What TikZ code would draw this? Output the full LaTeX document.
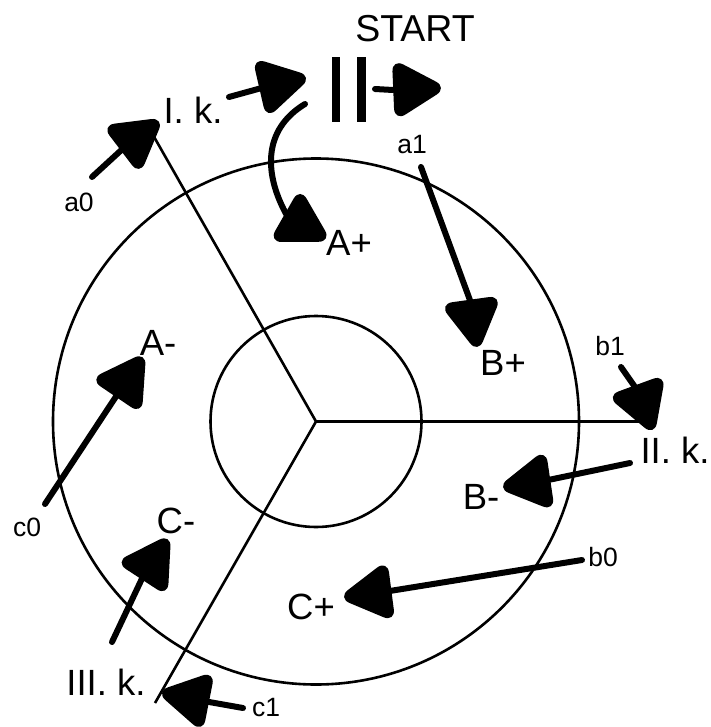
\documentclass[tikz,border=0pt]{standalone}
\usepackage{fontspec}
\setmainfont{Liberation Sans}
\usetikzlibrary{calc}
\tikzset{
  ring/.style={draw=black,line width=2.6pt,circle,inner sep=0pt},
  spoke/.style={draw=black,line width=2.6pt},
  big/.style={inner sep=0pt,font=\fontsize{36.5}{36.5}\selectfont},
  bigger/.style={inner sep=0pt,font=\fontsize{37.5}{37.5}\selectfont},
  small/.style={inner sep=0pt,font=\fontsize{26.5}{26.5}\selectfont},
  flow/.style={draw=black,line width=6pt,line cap=round},
  headshape/.style={fill=black,draw=none,rounded corners=13pt},
  bar/.style={fill=black,draw=none},
}
% arrowhead: rounded tip at #1, pointing away from base centre #2
\newcommand{\flowhead}[2]{%
  \path[headshape] ($(#1)!-7.5pt!(#2)$)
    -- ($(#1)!46.8pt!(#2)!31.5pt!90:(#1)$)
    -- ($(#1)!46.8pt!(#2)!31.5pt!-90:(#1)$) -- cycle;}
\begin{document}
\begin{tikzpicture}[x=1pt,y=-1pt]
\useasboundingbox (0,0) rectangle (710,727);
% rings
\node[ring,minimum size=526pt] (outer) at (316,421.5) {};
\node[ring,minimum size=211pt] (inner) at (316,421.5) {};
\coordinate (hub) at (316,421.5);
\coordinate (k1) at (153,135);
\coordinate (k2) at (655,421.5);
\coordinate (k3) at (155,703);
\draw[spoke] (hub) -- (k1);
\draw[spoke] (hub) -- (k2);
\draw[spoke] (hub) -- (k3);
% labels
\node[bigger] (start) at (415,29) {START};
\node[big] (ik) at (193,110) {I. k.};
\node[big] (iik) at (675,450) {II. k.};
\node[big] (iiik) at (106,682) {III. k.};
\node[big] (ap) at (349,243) {A+};
\node[big] (bp) at (503,363) {B+};
\node[big] (am) at (158,343) {A-};
\node[big] (bm) at (481,497) {B-};
\node[big] (cm) at (176,521) {C-};
\node[big] (cp) at (311,607) {C+};
\node[small] (a0) at (79,202) {a0};
\node[small] (a1) at (412,145) {a1};
\node[small] (b1) at (610,346) {b1};
\node[small] (b0) at (603,557) {b0};
\node[small] (c0) at (27,527) {c0};
\node[small] (c1) at (266,708) {c1};
% switch bars
\node[bar,minimum width=8.5pt,minimum height=65pt,inner sep=0pt] (bar1) at (336,89.5) {};
\node[bar,minimum width=8.5pt,minimum height=65pt,inner sep=0pt] (bar2) at (361.5,89.5) {};
% connector ends: s = start, b = head base centre, t = head tip
\coordinate (s1) at (92,177);   \coordinate (b1) at (122.5,149); \coordinate (t1) at (158,122);
\coordinate (s2) at (229,97);   \coordinate (b2) at (263.5,87.5); \coordinate (t2) at (305,78);
\coordinate (s3) at (375,89);   \coordinate (b3) at (393,90);   \coordinate (t3) at (440,88);
\coordinate (s4) at (305,104);  \coordinate (b4) at (287.5,216.5); \coordinate (t4) at (325,238);
\coordinate (s5) at (421,167);  \coordinate (b5) at (471,303);  \coordinate (t5) at (477,346);
\coordinate (s6) at (621,367);  \coordinate (b6) at (638.5,392); \coordinate (t6) at (652,429);
\coordinate (s7) at (630,463);  \coordinate (b7) at (541,481.5); \coordinate (t7) at (504,487);
\coordinate (s8) at (582,560);  \coordinate (b8) at (383.5,592); \coordinate (t8) at (345,597);
\coordinate (s9) at (243,708);  \coordinate (b9) at (203.5,701); \coordinate (t9) at (163,693);
\coordinate (s10) at (112,642); \coordinate (b10) at (142.5,577.5); \coordinate (t10) at (167,540);
\coordinate (s11) at (45,504);  \coordinate (b11) at (117,395); \coordinate (t11) at (142,358);
\draw[flow] (s1) -- (b1);   \flowhead{t1}{b1}
\draw[flow] (s2) -- (b2);   \flowhead{t2}{b2}
\draw[flow] (s3) -- (b3);   \flowhead{t3}{b3}
\draw[flow] (s4) .. controls (262,130) and (264,175) .. (b4); \flowhead{t4}{b4}
\draw[flow] (s5) -- (b5);   \flowhead{t5}{b5}
\draw[flow] (s6) -- (b6);   \flowhead{t6}{b6}
\draw[flow] (s7) -- (b7);   \flowhead{t7}{b7}
\draw[flow] (s8) -- (b8);   \flowhead{t8}{b8}
\draw[flow] (s9) -- (b9);   \flowhead{t9}{b9}
\draw[flow] (s10) -- (b10); \flowhead{t10}{b10}
\draw[flow] (s11) -- (b11); \flowhead{t11}{b11}
\end{tikzpicture}
\end{document}
